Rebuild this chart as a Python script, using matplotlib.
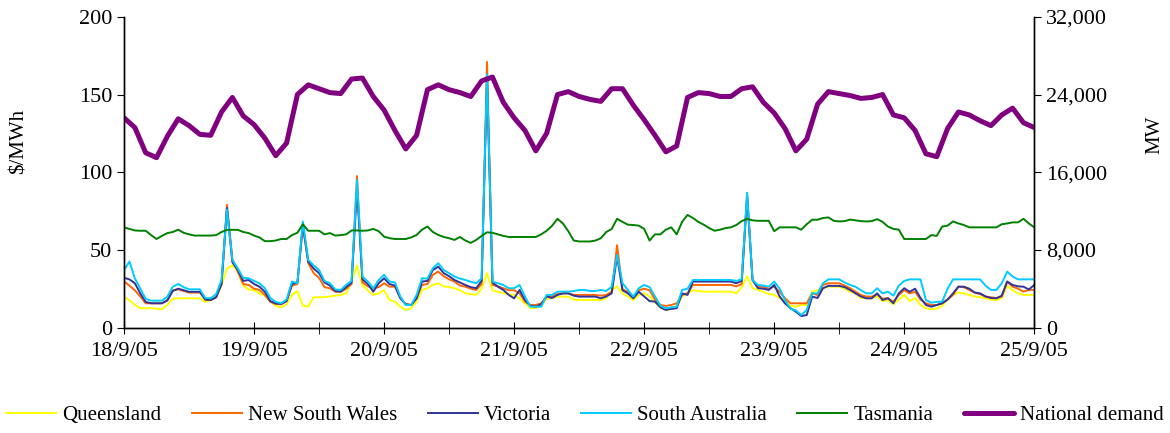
import numpy as np
import matplotlib
matplotlib.use("Agg")
import matplotlib.pyplot as plt
from matplotlib.ticker import FuncFormatter

plt.rcParams["font.family"] = ["Liberation Serif", "DejaVu Serif"]

# ── data: hourly prices ($/MWh) from 18/9/05 00:00 to 25/9/05 00:00 ──────────
hours = np.arange(169)

qld = [
    19.9, 17.5, 14.5, 12.4, 12.4, 12.5, 12.0, 12.0, 14.5, 18.5, 18.8, 18.8,
    18.8, 18.8, 18.8, 16.5, 17.5, 19.5, 27.0, 38.0, 40.0, 36.0, 27.0, 24.5,
    24.0, 22.0, 20.5, 17.0, 14.0, 13.0, 15.0, 21.0, 23.5, 14.0, 13.5, 19.5,
    19.5, 19.5, 20.0, 20.5, 21.0, 22.0, 30.0, 40.0, 27.0, 24.0, 21.0, 22.0,
    24.0, 17.7, 16.7, 13.4, 11.3, 12.4, 16.7, 24.2, 25.3, 27.4, 28.5, 26.5,
    26.0, 25.3, 24.0, 22.0, 21.5, 21.0, 25.0, 35.0, 24.0, 23.0, 22.0, 21.5,
    21.0, 18.8, 15.6, 12.5, 12.5, 14.5, 18.5, 19.0, 19.9, 19.9, 19.9, 18.0,
    17.7, 17.7, 17.7, 17.7, 17.7, 18.8, 24.0, 26.5, 22.0, 19.9, 17.7, 21.0,
    22.0, 20.0, 16.0, 13.0, 11.3, 12.0, 14.0, 20.0, 22.0, 24.0, 23.5, 23.1,
    23.1, 23.1, 23.1, 23.1, 23.1, 22.0, 26.0, 33.0, 25.3, 24.2, 23.0, 21.5,
    21.0, 19.0, 17.0, 14.0, 13.4, 14.5, 14.5, 23.1, 24.0, 25.3, 26.3, 26.3,
    26.3, 25.0, 23.0, 22.0, 19.0, 18.8, 18.8, 20.0, 17.0, 17.5, 15.0, 18.0,
    21.0, 17.0, 19.0, 14.5, 12.4, 11.7, 12.2, 14.0, 18.0, 21.0, 22.5, 22.0,
    21.0, 20.0, 19.5, 18.8, 18.0, 17.7, 19.0, 27.0, 24.0, 22.0, 21.0, 21.0,
    21.0,
]

nsw = [
    29.6, 27.0, 24.0, 20.0, 15.6, 15.6, 15.6, 15.6, 17.5, 24.0, 24.6, 23.5,
    22.5, 22.5, 22.5, 18.0, 17.7, 19.5, 28.0, 79.0, 44.0, 36.0, 28.0, 27.4,
    25.0, 24.2, 21.0, 16.5, 15.2, 15.0, 17.0, 27.0, 28.0, 66.0, 41.4, 35.0,
    32.0, 26.0, 25.3, 23.0, 23.1, 25.0, 28.0, 97.5, 29.0, 26.5, 25.3, 26.0,
    28.5, 26.3, 26.3, 19.0, 15.0, 14.5, 18.8, 27.4, 28.0, 33.9, 36.0, 33.0,
    31.0, 29.6, 27.0, 26.3, 25.0, 24.2, 28.0, 171.0, 27.4, 26.5, 25.3, 24.0,
    24.0, 22.0, 16.7, 14.5, 14.5, 15.6, 20.0, 20.0, 21.5, 22.0, 22.0, 21.0,
    21.0, 21.0, 21.0, 21.0, 20.5, 21.0, 23.0, 53.0, 24.5, 23.0, 19.5, 24.0,
    25.0, 24.0, 18.0, 14.5, 13.9, 14.5, 15.6, 21.0, 22.0, 27.4, 27.4, 27.4,
    27.4, 27.4, 27.4, 27.4, 27.4, 26.5, 28.0, 85.0, 30.6, 26.3, 26.3, 25.0,
    26.3, 23.0, 18.8, 15.6, 15.6, 15.6, 15.6, 22.0, 21.0, 27.4, 28.5, 28.5,
    28.5, 27.0, 25.3, 23.1, 21.0, 19.9, 19.9, 21.5, 18.5, 19.0, 16.5, 21.0,
    24.0, 22.0, 23.0, 18.0, 15.6, 14.5, 14.5, 15.6, 18.0, 21.0, 26.3, 26.0,
    24.2, 22.5, 21.5, 19.9, 19.5, 19.0, 19.9, 29.6, 26.3, 25.0, 23.1, 24.2,
    24.2,
]

vic = [
    32.0, 31.0, 28.5, 22.0, 16.5, 15.6, 15.6, 15.6, 17.5, 23.5, 25.0, 24.0,
    23.0, 23.0, 23.0, 18.0, 17.7, 19.5, 28.0, 77.0, 42.0, 37.0, 30.0, 30.6,
    28.0, 26.3, 23.0, 17.0, 15.5, 15.2, 17.0, 28.0, 29.0, 66.0, 42.5, 38.0,
    35.0, 29.0, 27.0, 23.5, 23.1, 26.0, 29.0, 89.0, 31.0, 28.0, 23.1, 28.5,
    31.7, 28.0, 27.0, 18.8, 15.0, 14.5, 18.8, 29.6, 30.0, 37.0, 39.2, 35.0,
    33.0, 30.6, 29.0, 27.4, 26.0, 25.3, 30.0, 160.0, 29.0, 26.3, 24.2, 21.0,
    18.8, 24.2, 17.7, 14.0, 13.4, 15.0, 20.0, 19.0, 21.0, 22.0, 22.0, 20.5,
    19.9, 19.9, 19.9, 19.9, 18.8, 20.0, 22.0, 46.0, 24.0, 22.0, 18.8, 23.0,
    20.0, 17.0, 16.7, 13.0, 11.3, 12.0, 12.4, 22.0, 21.0, 29.6, 29.6, 29.6,
    29.6, 29.6, 29.6, 29.6, 29.6, 28.5, 30.0, 85.0, 30.6, 25.3, 25.0, 24.2,
    27.4, 20.0, 15.5, 12.5, 10.2, 7.4, 8.0, 19.9, 19.0, 25.3, 26.8, 26.8,
    26.8, 26.0, 24.2, 22.0, 20.0, 18.8, 18.8, 22.0, 17.7, 18.8, 15.6, 22.0,
    25.3, 23.0, 25.0, 19.0, 14.5, 13.4, 14.5, 15.6, 18.0, 22.0, 26.3, 26.3,
    25.0, 22.5, 22.0, 20.0, 19.0, 18.8, 20.5, 29.6, 27.4, 26.5, 26.3, 24.5,
    27.4,
]

sa = [
    37.0, 42.5, 31.7, 25.0, 18.5, 17.3, 17.3, 17.3, 19.9, 26.3, 28.0, 26.0,
    24.6, 24.6, 24.6, 19.0, 18.8, 21.5, 30.6, 76.0, 43.5, 38.0, 32.0, 31.7,
    30.0, 28.5, 25.3, 19.0, 16.5, 15.6, 18.0, 29.6, 28.5, 68.3, 43.5, 40.0,
    37.0, 30.0, 28.5, 24.5, 24.2, 27.5, 30.0, 95.0, 32.8, 29.6, 25.3, 30.6,
    33.9, 29.6, 29.0, 19.9, 14.5, 14.5, 21.0, 31.7, 31.5, 38.2, 41.4, 37.0,
    35.0, 32.8, 31.5, 30.6, 29.5, 28.5, 31.7, 163.0, 29.6, 28.5, 27.4, 25.3,
    25.3, 27.4, 19.9, 13.4, 13.4, 13.4, 21.0, 21.0, 23.1, 23.1, 23.1, 23.5,
    24.2, 24.2, 23.5, 23.5, 24.2, 23.5, 26.3, 46.8, 28.5, 24.2, 19.9, 25.3,
    27.4, 26.0, 20.0, 14.0, 12.4, 13.0, 13.4, 24.2, 25.0, 30.6, 30.6, 30.6,
    30.6, 30.6, 30.6, 30.6, 30.6, 30.0, 31.0, 86.8, 30.6, 27.4, 27.0, 26.3,
    29.6, 25.0, 17.7, 12.0, 11.0, 8.1, 11.3, 22.0, 22.0, 28.5, 31.0, 31.0,
    31.0, 29.0, 27.4, 26.3, 24.0, 22.0, 22.0, 25.3, 22.0, 23.1, 20.5, 27.0,
    30.0, 31.0, 31.0, 31.0, 17.7, 16.0, 16.5, 16.7, 25.0, 31.0, 31.0, 31.0,
    31.0, 31.0, 31.0, 27.0, 24.2, 24.2, 28.5, 36.0, 32.8, 31.0, 31.0, 31.0,
    31.0,
]

tas = [
    64.4, 63.5, 62.5, 62.3, 62.3, 59.5, 57.0, 59.0, 60.8, 61.5, 63.0, 61.0,
    60.0, 59.2, 59.2, 59.2, 59.2, 59.5, 61.5, 62.9, 62.9, 62.9, 61.5, 60.8,
    59.2, 58.0, 55.6, 55.6, 56.0, 57.0, 57.0, 59.5, 61.0, 66.5, 62.3, 62.3,
    62.3, 60.0, 60.8, 59.2, 59.5, 60.0, 62.5, 62.5, 62.3, 62.5, 63.5, 62.0,
    58.5, 57.5, 57.0, 57.0, 57.0, 58.0, 59.6, 63.0, 65.0, 61.5, 59.6, 58.3,
    57.5, 56.4, 58.3, 56.0, 54.5, 56.4, 59.0, 61.3, 61.0, 60.0, 59.0, 58.3,
    58.3, 58.3, 58.3, 58.3, 58.3, 60.0, 62.3, 65.5, 70.0, 67.0, 62.0, 56.0,
    55.4, 55.4, 55.4, 56.0, 57.5, 61.5, 63.4, 70.0, 68.0, 66.2, 66.0, 65.6,
    63.5, 56.0, 60.0, 60.0, 63.0, 64.5, 60.0, 68.0, 72.5, 70.5, 68.0, 66.2,
    64.0, 62.3, 63.0, 64.0, 64.5, 66.0, 68.5, 70.0, 69.0, 68.7, 68.7, 68.7,
    62.0, 64.5, 64.5, 64.5, 64.5, 63.0, 66.5, 69.4, 69.4, 70.5, 70.9, 68.7,
    68.3, 68.5, 69.5, 69.0, 68.5, 68.3, 68.5, 69.8, 68.0, 65.0, 63.5, 63.0,
    57.0, 57.0, 57.0, 57.0, 57.0, 59.5, 59.0, 65.0, 65.6, 68.3, 67.0, 66.0,
    64.5, 64.5, 64.5, 64.5, 64.5, 64.5, 66.5, 67.0, 67.7, 67.7, 70.0, 67.0,
    64.5,
]

# national demand (MW), every 2 hours
demand_hours = np.arange(0, 169, 2)
demand = [
    21600, 20600, 18000, 17500, 19700, 21500, 20800, 19900, 19800, 22200,
    23700, 21800, 20900, 19500, 17700, 19000, 24000, 25000, 24600, 24200,
    24100, 25600, 25700, 23800, 22400, 20300, 18400, 19800, 24500, 25000,
    24500, 24200, 23800, 25400, 25800, 23200, 21600, 20300, 18200, 20000,
    24000, 24300, 23800, 23500, 23300, 24600, 24600, 22900, 21400, 19800,
    18100, 18700, 23700, 24200, 24100, 23800, 23800, 24600, 24800, 23200,
    22100, 20500, 18200, 19400, 23000, 24300, 24100, 23900, 23600, 23700,
    24000, 21900, 21600, 20300, 17900, 17600, 20500, 22200, 21900, 21300,
    20800, 21900, 22600, 21100, 20600,
]

day_labels = ["18/9/05", "19/9/05", "20/9/05", "21/9/05",
              "22/9/05", "23/9/05", "24/9/05", "25/9/05"]

series = [
    ("Queensland",      qld, "#FFFF00"),
    ("New South Wales", nsw, "#FF6600"),
    ("Victoria",        vic, "#333399"),
    ("South Australia", sa,  "#00CCFF"),
    ("Tasmania",        tas, "#008000"),
]

# ── figure ────────────────────────────────────────────────────────────────────
fig = plt.figure(figsize=(11.7, 4.33), dpi=100)
ax = fig.add_axes([0.106, 0.2436, 0.778, 0.7174])
ax2 = ax.twinx()

handles = []
for name, vals, color in series:
    h, = ax.plot(hours, vals, color=color, lw=1.4, label=name)
    handles.append(h)

h, = ax2.plot(demand_hours, demand, color="#800080", lw=3.6,
              solid_capstyle="round", label="National demand")
handles.append(h)

ax.set_xlim(0, 168)
ax.set_ylim(0, 200)
ax2.set_ylim(0, 32000)
ax.set_yticks(np.arange(0, 201, 50))
ax2.set_yticks(np.arange(0, 32001, 8000))
ax2.yaxis.set_major_formatter(FuncFormatter(lambda v, p: f"{int(v):,}"))

ax.set_xticks(np.arange(0, 169, 24))
ax.set_xticklabels(day_labels)
ax.set_xticks(np.arange(12, 169, 24), minor=True)

for a in (ax, ax2):
    a.spines["top"].set_visible(False)
    for s in a.spines.values():
        s.set_linewidth(1.0)
ax.tick_params(axis="x", which="both", direction="inout", length=9,
               labelsize=16, pad=6)
ax.tick_params(axis="y", direction="out", length=5, labelsize=16)
ax2.tick_params(axis="y", direction="out", length=5, labelsize=16)

ax.set_ylabel("$/MWh", fontsize=15)
ax.yaxis.set_label_coords(-0.105, 0.60)
ax2.set_ylabel("MW", fontsize=15)
ax2.yaxis.set_label_coords(1.122, 0.62)

fig.legend(handles=handles, loc="lower center",
           bbox_to_anchor=(0.5, -0.025), ncol=6, frameon=False, fontsize=15,
           handlelength=2.4, handletextpad=0.3, columnspacing=1.45)

fig.savefig("out.png", dpi=100)
